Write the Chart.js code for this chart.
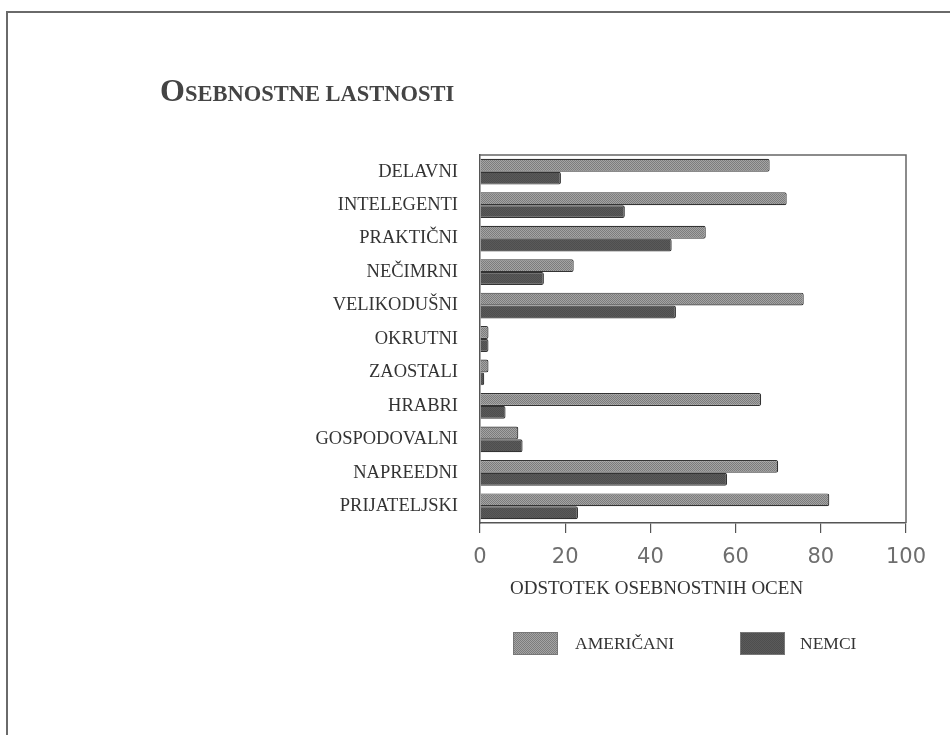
<!DOCTYPE html>
<html>
<head>
<meta charset="utf-8">
<script src="https://cdn.jsdelivr.net/npm/chart.js@4.4.0/dist/chart.umd.min.js"></script>
<style>
  html, body { margin: 0; padding: 0; background: #fff; }
  #wrap { width: 950px; height: 735px; position: relative; }
</style>
</head>
<body>
<div id="wrap"><canvas id="osebnostChart"></canvas></div>
<script>
// values (percent of ratings)
const categories = ["DELAVNI", "INTELEGENTI", "PRAKTIČNI", "NEČIMRNI", "VELIKODUŠNI", "OKRUTNI",
    "ZAOSTALI", "HRABRI", "GOSPODOVALNI", "NAPREEDNI", "PRIJATELJSKI"];
const americani = [68, 72, 53, 22, 76, 2, 2, 66, 9, 70, 82];
const nemci = [19, 34, 45, 15, 46, 2, 1, 6, 10, 58, 23];
const xTicks = [0, 20, 40, 60, 80, 100];
const seriesNames = ["AMERIČANI", "NEMCI"];

const serif = "'Liberation Serif', 'DejaVu Serif', serif";

// dithered fill like the printed original
function makePattern(light, dark) {
    const c = document.createElement('canvas');
    c.width = 2;
    c.height = 2;
    const g = c.getContext('2d');
    g.fillStyle = light;
    g.fillRect(0, 0, 2, 2);
    g.fillStyle = dark;
    g.fillRect(0, 0, 1, 1);
    g.fillRect(1, 1, 1, 1);
    return g.createPattern(c, 'repeat');
}

const ctxEl = document.getElementById('osebnostChart');
const amFill = makePattern('#a4a4a4', '#7c7c7c');
const neFill = makePattern('#5a5a5a', '#4e4e4e');

const decorPlugin = {
    id: 'decor',
    afterDraw(chart) {
        const ctx = chart.ctx;
        const area = chart.chartArea;
        ctx.save();

        // page frame
        ctx.strokeStyle = '#6a6a6a';
        ctx.lineWidth = 2;
        ctx.strokeRect(7, 12, 960, 740);

        // plot box (top and right edges)
        ctx.strokeStyle = '#666';
        ctx.lineWidth = 1.5;
        ctx.beginPath();
        ctx.moveTo(area.left, area.top);
        ctx.lineTo(area.right, area.top);
        ctx.lineTo(area.right, area.bottom);
        ctx.stroke();

        // title in small caps
        ctx.fillStyle = '#444';
        ctx.textBaseline = 'alphabetic';
        ctx.textAlign = 'left';
        ctx.font = "bold 32px " + serif;
        ctx.fillText("O", 160, 101);
        const oW = ctx.measureText("O").width;
        ctx.font = "bold 22.5px " + serif;
        ctx.fillText("SEBNOSTNE LASTNOSTI", 160 + oW, 101);

        // x axis title
        ctx.fillStyle = '#333';
        ctx.font = "19px " + serif;
        ctx.textBaseline = 'middle';
        ctx.fillText("ODSTOTEK OSEBNOSTNIH OCEN", 510, 589);

        // legend
        const fills = [amFill, neFill];
        const boxes = [[513, 575], [740, 800]];
        seriesNames.forEach((name, i) => {
            const [bx, tx] = boxes[i];
            ctx.fillStyle = fills[i];
            ctx.fillRect(bx, 632, 44, 22);
            ctx.strokeStyle = '#777';
            ctx.lineWidth = 1;
            ctx.strokeRect(bx + 0.5, 632.5, 44, 22);
            ctx.fillStyle = '#333';
            ctx.font = "17.5px " + serif;
            ctx.fillText(name, tx, 644);
        });
        ctx.restore();
    }
};

new Chart(ctxEl, {
    type: 'bar',
    data: {
        labels: categories,
        datasets: [
            {
                label: seriesNames[0],
                data: americani,
                backgroundColor: amFill,
                borderColor: '#333',
                borderWidth: 1.2,
                borderRadius: 2,
                borderSkipped: 'start',
                categoryPercentage: 0.77,
                barPercentage: 1.0
            },
            {
                label: seriesNames[1],
                data: nemci,
                backgroundColor: neFill,
                borderColor: '#333',
                borderWidth: 1.2,
                borderRadius: 2,
                borderSkipped: 'start',
                categoryPercentage: 0.77,
                barPercentage: 1.0
            }
        ]
    },
    options: {
        indexAxis: 'y',
        responsive: true,
        maintainAspectRatio: false,
        animation: false,
        layout: {
            padding: { left: 0, right: 44, top: 155, bottom: 0 }
        },
        plugins: {
            legend: { display: false },
            title: { display: false },
            tooltip: { enabled: false }
        },
        scales: {
            y: {
                grid: { display: false },
                border: { display: true, color: '#555', width: 1.5 },
                ticks: {
                    color: '#333',
                    font: { family: serif, size: 18.5 },
                    padding: 14
                },
                afterFit(scale) {
                    scale.width = 480;
                }
            },
            x: {
                min: 0,
                max: 100,
                afterBuildTicks(scale) {
                    scale.ticks = xTicks.map(v => ({ value: v }));
                },
                grid: {
                    display: true,
                    drawOnChartArea: false,
                    drawTicks: true,
                    tickLength: 10,
                    color: '#555',
                    lineWidth: 1.2
                },
                border: { display: true, color: '#555', width: 1.5 },
                ticks: {
                    color: '#6e6e6e',
                    font: { family: "'DejaVu Sans', sans-serif", size: 21 },
                    padding: 12
                },
                afterFit(scale) {
                    scale.height = 212;
                }
            }
        }
    },
    plugins: [decorPlugin]
});
</script>
</body>
</html>
